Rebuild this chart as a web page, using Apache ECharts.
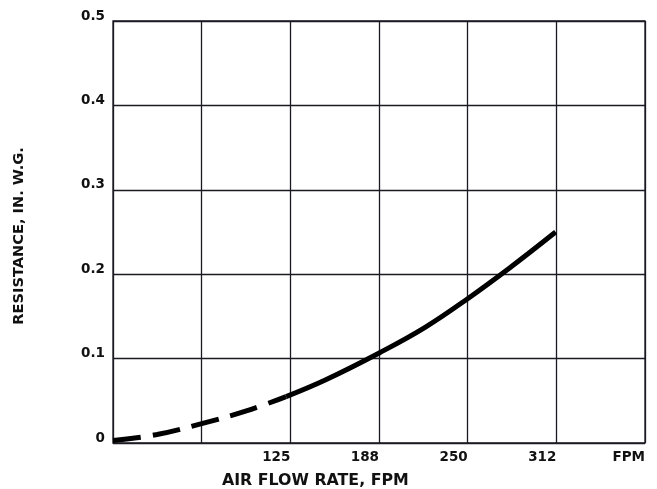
<!DOCTYPE html>
<html><head><meta charset="utf-8">
<script src="https://cdn.jsdelivr.net/npm/echarts@6/dist/echarts.min.js"></script>
<style>html,body{margin:0;padding:0;background:#fff}#c{width:657px;height:489px}</style>
</head><body><div id="c"></div>
<script>
var dashedX = [0, 31, 62.5, 94, 122];
var dashedY = [0.003, 0.010, 0.023, 0.038, 0.055];
var solidX = [122, 150, 188, 220, 250, 280, 312];
var solidY = [0.055, 0.075, 0.107, 0.137, 0.171, 0.208, 0.25];
var xTickLabels = {125: '125', 187.5: '188', 250: '250', 312.5: '312', 375: 'FPM'};
var yTickLabels = {0: '0', 0.1: '0.1', 0.2: '0.2', 0.3: '0.3', 0.4: '0.4', 0.5: '0.5'};

function pairs(xs, ys) { return xs.map(function (x, i) { return [x, ys[i]]; }); }

var font = '"DejaVu Sans", Arial, sans-serif';
var ink = '#111';
var gridColor = '#1a1a22';
var chart = echarts.init(document.getElementById('c'));
chart.setOption({
  animation: false,
  grid: {left: 113, right: 12, top: 21, bottom: 46, show: true, borderColor: gridColor, borderWidth: 1.3,
         outerBoundsMode: 'none', containLabel: false},
  xAxis: {
    type: 'value', min: 0, max: 375, interval: 62.5,
    axisLine: {show: false}, axisTick: {show: false},
    splitLine: {show: true, lineStyle: {color: gridColor, width: 1.3}},
    axisLabel: {
      margin: 7, color: ink, fontFamily: font, fontWeight: 'bold', fontSize: 13.5, align: 'right',
      showMinLabel: true, showMaxLabel: true,
      formatter: function (v) { return xTickLabels[v] || ''; }
    }
  },
  yAxis: {
    type: 'value', min: 0, max: 0.5, interval: 0.1,
    axisLine: {show: false}, axisTick: {show: false},
    splitLine: {show: true, lineStyle: {color: gridColor, width: 1.3}},
    axisLabel: {
      margin: 8, color: ink, fontFamily: font, fontWeight: 'bold', fontSize: 13.5,
      verticalAlign: 'bottom', lineHeight: 10,
      formatter: function (v) { return yTickLabels[Math.round(v * 10) / 10] || ''; }
    }
  },
  graphic: [{
    type: 'text', x: 222, y: 473,
    style: {text: 'AIR FLOW RATE, FPM', fill: ink, font: 'bold 15.8px ' + font, verticalAlign: 'top'}
  }, {
    type: 'text', x: 19, y: 236, rotation: Math.PI / 2,
    style: {text: 'RESISTANCE, IN. W.G.', fill: ink, font: 'bold 14.6px ' + font, align: 'center', verticalAlign: 'middle'}
  }],
  series: [{
    type: 'line', data: pairs(dashedX, dashedY), smooth: 0.4, symbol: 'none',
    lineStyle: {color: '#000', width: 5, type: [28, 12], cap: 'butt'}
  }, {
    type: 'line', data: pairs(solidX, solidY), smooth: 0.4, symbol: 'none',
    lineStyle: {color: '#000', width: 5}
  }]
});
</script></body></html>
